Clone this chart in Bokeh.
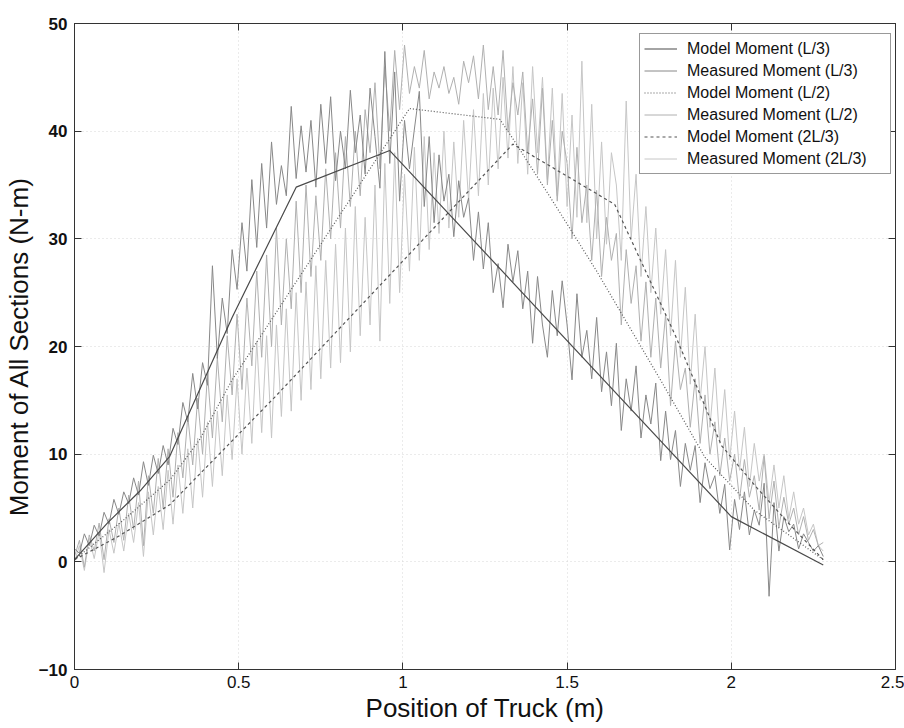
import numpy as np
from bokeh.plotting import figure
from bokeh.models import Range1d, LinearAxis, FixedTicker, Legend, LegendItem
from bokeh.embed import file_html
from bokeh.resources import INLINE

# ---------------- data ----------------
x_ticks = [0, 0.5, 1, 1.5, 2, 2.5]
y_ticks = [-10, 0, 10, 20, 30, 40, 50]

# model influence-line moments (piecewise linear)
model_L3_x = [0, 0.1, 0.2, 0.29, 0.48, 0.675, 0.96, 2.0, 2.28]
model_L3_y = [0.2, 3.6, 6.6, 9.8, 22.7, 34.8, 38.2, 4.2, -0.3]

model_L2_x = [0, 0.15, 0.29, 0.38, 0.48, 1.02, 1.295, 1.335, 1.45, 1.59, 1.79, 1.92, 2.07, 2.28]
model_L2_y = [0.2, 3.9, 7.6, 11.3, 16.9, 42.1, 41.1, 39.3, 33.8, 27.0, 16.6, 9.7, 4.8, 0.2]

model_2L3_x = [0, 0.13, 0.29, 0.61, 1.335, 1.645, 1.83, 1.97, 2.08, 2.18, 2.28]
model_2L3_y = [0.2, 2.3, 5.3, 15.3, 38.8, 33.2, 21.0, 10.8, 6.8, 3.4, 0.2]

# measured moments, sampled along the truck path from 0 to 2.28 m
meas_x_start, meas_x_end, meas_n = 0.0, 2.28, 153

meas_L3 = [
    1.2, 0.8, 2.6, 1.5, 3.4, 2.4, 4.6, 3.5, 5.8, 4.4,
    6.5, 5.4, 7.8, 6.2, 9.3, 7.1, 9.9, 8.2, 10.8, 9.0,
    12.4, 10.9, 14.8, 13.0, 17.5, 14.2, 18.5, 16.4, 27.5, 18.9,
    24.5, 21.2, 29.0, 25.3, 31.5, 27.0, 35.5, 29.2, 37.0, 31.0,
    39.0, 33.2, 36.8, 34.0, 42.3, 35.6, 40.5, 36.2, 41.0, 34.8,
    42.5, 37.0, 43.2, 35.4, 40.0, 36.5, 43.8, 38.0, 41.5, 36.0,
    44.0, 39.5, 34.7, 47.4, 37.0, 45.5, 33.5, 41.0, 36.5, 40.2,
    43.7, 33.0, 39.5, 31.5, 37.8, 33.5, 36.0, 30.2, 35.4, 32.0,
    33.8, 28.0, 32.5, 27.2, 31.5, 25.0, 27.7, 23.6, 29.5, 26.0,
    28.9, 23.5, 27.0, 20.3, 26.5, 22.0, 19.0, 25.2, 21.0, 26.1,
    22.0, 16.9, 24.9, 19.0, 21.5, 17.0, 22.7, 15.8, 19.5, 14.5,
    20.3, 12.2, 17.0, 14.0, 18.2, 11.5, 15.5, 12.8, 16.6, 9.4,
    14.0, 9.5, 12.2, 7.0, 11.0, 8.5, 10.8, 5.5, 9.2, 6.8,
    8.0, 4.5, 7.2, 1.1, 5.8, 3.0, 6.5, 2.5, 4.8, 3.4,
    7.3, -3.2, 5.5, 1.0, 4.2, 2.8, 3.5, 1.2, 2.6, 1.8, 1.0, 1.5, 0.5,
]

meas_L2 = [
    0.5, 2.0, -0.5, 2.5, 1.0, 3.6, 0.2, 4.0, 1.8, 5.0,
    2.0, 6.2, 3.0, 7.5, 1.5, 8.0, 4.5, 9.6, 5.0, 10.5,
    6.0, 12.0, 7.8, 13.5, 9.0, 15.2, 10.0, 17.5, 11.5, 19.0,
    13.0, 21.0, 15.5, 23.0, 16.0, 24.5, 18.2, 27.0, 19.0, 28.5,
    20.0, 31.0, 22.0, 30.0, 23.5, 33.5, 25.0, 35.0, 26.5, 34.0,
    28.0, 36.5, 30.0, 38.0, 31.0, 39.5, 33.0, 40.0, 34.0, 42.0,
    38.0, 44.5, 36.5, 46.0, 40.0, 47.5, 42.0, 48.0, 43.5, 46.0,
    44.0, 47.5, 43.0, 45.5, 44.0, 46.0, 43.5, 45.0, 42.5, 46.5,
    44.5, 47.0, 43.0, 48.0, 42.0, 46.0, 41.5, 47.5, 40.0, 44.5,
    41.5, 45.5, 38.0, 43.0, 36.0, 44.0, 35.0, 41.0, 33.5, 40.0,
    37.0, 30.0, 38.5, 31.5, 35.0, 28.0, 34.5, 26.5, 32.0, 28.0,
    30.5, 22.0, 29.0, 24.0, 27.5, 20.5, 26.0, 19.0, 24.5, 18.0,
    23.0, 14.5, 20.5, 16.0, 18.0, 12.5, 17.0, 11.0, 15.5, 10.0,
    13.0, 8.0, 11.5, 7.5, 10.0, 5.8, 9.5, 6.0, 8.0, 4.8,
    9.8, 4.0, 7.5, 3.2, 6.0, 3.5, 5.0, 2.5, 4.2, 2.0, 3.0, 1.5, 1.8,
]

meas_2L3 = [
    0.0, 1.5, -0.8, 2.2, 0.3, 2.8, -1.0, 3.0, 0.8, 3.6,
    1.0, 4.5, 1.8, 5.5, 0.5, 6.5, 2.5, 7.0, 3.0, 8.5,
    3.5, 9.0, 4.5, 10.5, 5.0, 11.5, 6.0, 13.0, 7.0, 14.0,
    8.0, 15.5, 9.5, 17.0, 10.0, 18.0, 11.0, 20.5, 12.0, 21.0,
    11.5, 22.0, 13.5, 23.5, 14.0, 25.0, 15.0, 26.0, 16.0, 27.5,
    17.0, 28.0, 18.0, 29.5, 18.5, 31.0, 19.5, 33.0, 21.0, 32.0,
    22.0, 35.0, 20.5, 37.0, 24.0, 38.0, 25.0, 36.0, 27.0, 38.5,
    28.0, 39.5, 29.0, 38.0, 30.5, 40.0, 31.0, 39.0, 32.0, 41.0,
    33.5, 42.0, 34.0, 43.5, 35.0, 44.0, 36.5, 45.0, 37.5, 46.0,
    37.0, 44.5, 36.0, 46.0, 38.0, 45.0, 35.5, 44.0, 34.0, 43.5,
    33.0, 41.5, 32.0, 46.5, 31.5, 42.5, 30.0, 39.0, 29.5, 38.0,
    35.0, 28.0, 42.8, 30.0, 36.0, 26.5, 33.0, 25.0, 31.0, 23.0,
    29.0, 21.0, 28.0, 19.0, 25.5, 16.5, 23.0, 15.0, 20.0, 12.5,
    18.0, 11.0, 16.0, 9.5, 14.0, 8.5, 12.5, 7.0, 11.0, 7.5,
    10.0, 5.5, 9.0, 5.0, 8.0, 4.0, 6.5, 3.5, 5.0, 2.5, 3.5, 1.5, 1.0,
]

meas_x = np.linspace(meas_x_start, meas_x_end, meas_n)

# ---------------- figure ----------------
FONT = "Liberation Sans"
AX = "#333333"

p = figure(width=904, height=728,
           x_range=Range1d(0, 2.5), y_range=Range1d(-10, 50),
           output_backend="svg", toolbar_location=None,
           min_border_left=72, min_border_right=9,
           min_border_top=23, min_border_bottom=59)

p.background_fill_color = "white"
p.border_fill_color = "white"
p.outline_line_color = AX
p.outline_line_width = 1

for ax in (p.xaxis[0], p.yaxis[0]):
    ax.axis_line_color = AX
    ax.major_tick_line_color = AX
    ax.major_tick_in = 7
    ax.major_tick_out = 0
    ax.minor_tick_line_color = None
    ax.major_label_text_font = FONT
    ax.major_label_text_font_size = "17px"
    ax.major_label_text_color = "#111111"
    ax.axis_label_text_font = FONT
    ax.axis_label_text_font_size = "26px"
    ax.axis_label_text_font_style = "normal"
    ax.axis_label_text_color = "#111111"

p.xaxis[0].ticker = FixedTicker(ticks=x_ticks)
p.yaxis[0].ticker = FixedTicker(ticks=y_ticks)
p.xaxis[0].axis_label = "Position of Truck (m)"
p.yaxis[0].axis_label = "Moment of All Sections (N-m)"
p.xaxis[0].major_label_standoff = 6
p.yaxis[0].major_label_standoff = 7
p.xaxis[0].axis_label_standoff = 2
p.yaxis[0].axis_label_standoff = 2
p.yaxis[0].major_label_text_font_style = "bold"

# ticks on top and right (inside), no labels
for loc, tk in (("above", x_ticks), ("right", y_ticks)):
    a = LinearAxis(ticker=FixedTicker(ticks=tk))
    a.axis_line_color = AX
    a.major_tick_line_color = AX
    a.major_tick_in = 7
    a.major_tick_out = 0
    a.minor_tick_line_color = None
    a.major_label_text_color = None
    a.major_label_text_font_size = "1px"
    a.major_label_standoff = 0
    p.add_layout(a, loc)

p.xgrid.ticker = FixedTicker(ticks=x_ticks)
p.ygrid.ticker = FixedTicker(ticks=y_ticks)
for g in (p.xgrid[0], p.ygrid[0]):
    g.grid_line_color = "#d6d6d6"
    g.grid_line_dash = "1 3"
    g.grid_line_width = 1

# measured (drawn first, lighter)
r_m23 = p.line(meas_x, meas_2L3, line_color="#c6c6c6", line_width=1)
r_m2 = p.line(meas_x, meas_L2, line_color="#b0b0b0", line_width=1)
r_m3 = p.line(meas_x, meas_L3, line_color="#888888", line_width=1)

# models
r_3 = p.line(model_L3_x, model_L3_y, line_color="#4a4a4a", line_width=1.2)
r_2 = p.line(model_L2_x, model_L2_y, line_color="#555555", line_width=1.2, line_dash="1 2")
r_23 = p.line(model_2L3_x, model_2L3_y, line_color="#555555", line_width=1.2, line_dash="3 3")

legend = Legend(items=[
    LegendItem(label="Model Moment (L/3)", renderers=[r_3]),
    LegendItem(label="Measured Moment (L/3)", renderers=[r_m3]),
    LegendItem(label="Model Moment (L/2)", renderers=[r_2]),
    LegendItem(label="Measured Moment (L/2)", renderers=[r_m2]),
    LegendItem(label="Model Moment (2L/3)", renderers=[r_23]),
    LegendItem(label="Measured Moment (2L/3)", renderers=[r_m23]),
], location=(565, 495))
legend.label_text_font = FONT
legend.label_text_font_size = "16px"
legend.label_text_color = "#111111"
legend.glyph_width = 33
legend.glyph_height = 21
legend.label_height = 21
legend.label_width = 199
legend.label_standoff = 10
legend.spacing = 1
legend.padding = 4
legend.margin = 0
legend.border_line_color = AX
legend.border_line_width = 1
legend.background_fill_color = "white"
legend.background_fill_alpha = 1
p.add_layout(legend, "center")

open("out.html", "w").write(file_html(p, INLINE))
